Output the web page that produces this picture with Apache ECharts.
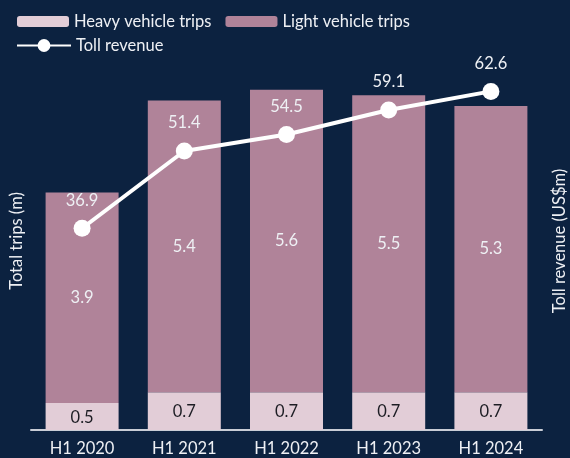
<!DOCTYPE html>
<html>
<head>
<meta charset="utf-8">
<script src="https://cdn.jsdelivr.net/npm/echarts@6/dist/echarts.min.js"></script>
<style>
  html, body { margin: 0; padding: 0; background: #0c2240; }
  #chart { width: 570px; height: 458px; }
</style>
</head>
<body>
<div id="chart"></div>
<script>
// categories and values
var periods = ['H1 2020', 'H1 2021', 'H1 2022', 'H1 2023', 'H1 2024']
var heavyTrips = [0.5, 0.7, 0.7, 0.7, 0.7]
var lightTrips = [3.9, 5.4, 5.6, 5.5, 5.3]
var tollRevenue = [36.9, 51.4, 54.5, 59.1, 62.6]

var font = 'Lato, "Open Sans", sans-serif'
var textColor = '#eef0f4'
var fs = 16.5

var myChart = echarts.init(document.getElementById('chart'))

var option = {
  backgroundColor: '#0c2240',
  animation: false,
  textStyle: { fontFamily: font },
  legend: [
    {
      data: ['Heavy vehicle trips', 'Light vehicle trips'],
      left: 12,
      top: 8,
      itemWidth: 52,
      itemHeight: 11,
      itemGap: 14,
      textStyle: { color: textColor, fontSize: fs, fontFamily: font },
      selectedMode: false
    },
    {
      data: ['Toll revenue'],
      left: 11,
      top: 32,
      itemWidth: 54,
      itemHeight: 16,
      textStyle: { color: textColor, fontSize: fs, fontFamily: font },
      selectedMode: false
    }
  ],
  grid: {
    left: 31,
    right: 28,
    top: 52,
    bottom: 28,
    outerBoundsMode: 'none'
  },
  xAxis: {
    type: 'category',
    data: periods,
    axisTick: { show: false },
    axisLine: { show: true, lineStyle: { color: '#c9cdd6', width: 2 } },
    axisLabel: { color: textColor, fontSize: fs, fontFamily: font, margin: 10 }
  },
  yAxis: [
    {
      type: 'value',
      min: 0,
      max: 7,
      name: 'Total trips (m)',
      nameLocation: 'middle',
      nameGap: 6,
      nameTextStyle: { color: textColor, fontSize: fs, fontFamily: font },
      axisLine: { show: false },
      axisTick: { show: false },
      axisLabel: { show: false },
      splitLine: { show: false }
    },
    {
      type: 'value',
      min: -1,
      max: 70,
      name: 'Toll revenue (US$m)',
      nameLocation: 'middle',
      nameGap: 9,
      nameRotate: 90,
      nameTextStyle: { color: textColor, fontSize: fs, fontFamily: font },
      axisLine: { show: false },
      axisTick: { show: false },
      axisLabel: { show: false },
      splitLine: { show: false }
    }
  ],
  series: [
    {
      name: 'Heavy vehicle trips',
      type: 'bar',
      stack: 'trips',
      barWidth: 73,
      data: heavyTrips,
      itemStyle: { color: '#e2cdd7' },
      label: {
        show: true,
        position: 'inside',
        offset: [0, 1],
        color: '#1d1d24',
        fontSize: fs,
        fontFamily: font
      }
    },
    {
      name: 'Light vehicle trips',
      type: 'bar',
      stack: 'trips',
      barWidth: 73,
      data: lightTrips,
      itemStyle: { color: '#b08399' },
      label: {
        show: true,
        position: 'inside',
        color: textColor,
        fontSize: fs,
        fontFamily: font
      }
    },
    {
      name: 'Toll revenue',
      type: 'line',
      yAxisIndex: 1,
      data: tollRevenue,
      symbol: 'circle',
      symbolSize: 17,
      lineStyle: { color: '#ffffff', width: 4 },
      itemStyle: { color: '#ffffff' },
      label: {
        show: true,
        position: 'top',
        distance: 11,
        color: textColor,
        fontSize: fs,
        fontFamily: font,
        formatter: function (p) { return p.value.toFixed(1) }
      },
      z: 5
    }
  ]
}

myChart.setOption(option)
</script>
</body>
</html>
